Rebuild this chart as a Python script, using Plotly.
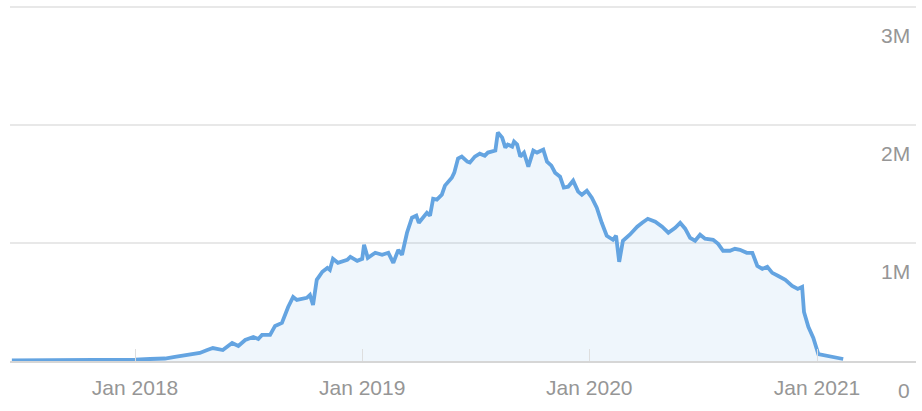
import plotly.graph_objects as go

dates = [
    "2017-06-17", "2017-09-02", "2017-11-06", "2018-01-01", "2018-01-25", "2018-02-18",
    "2018-03-06", "2018-03-30", "2018-04-15", "2018-04-27", "2018-05-06", "2018-05-22",
    "2018-06-06", "2018-06-16", "2018-06-27", "2018-07-10", "2018-07-18", "2018-07-24",
    "2018-08-06", "2018-08-14", "2018-08-25", "2018-09-04", "2018-09-12", "2018-09-18",
    "2018-10-04", "2018-10-09", "2018-10-14", "2018-10-20", "2018-10-29", "2018-11-06",
    "2018-11-10", "2018-11-15", "2018-11-23", "2018-12-08", "2018-12-13", "2018-12-24",
    "2019-01-01", "2019-01-04", "2019-01-10", "2019-01-22", "2019-02-02", "2019-02-12",
    "2019-02-20", "2019-02-28", "2019-03-06", "2019-03-14", "2019-03-22", "2019-03-29",
    "2019-04-02", "2019-04-15", "2019-04-20", "2019-04-25", "2019-05-01", "2019-05-09",
    "2019-05-14", "2019-05-25", "2019-05-29", "2019-06-04", "2019-06-10", "2019-06-19",
    "2019-06-23", "2019-07-01", "2019-07-09", "2019-07-17", "2019-07-22", "2019-08-03",
    "2019-08-07", "2019-08-14", "2019-08-19", "2019-08-23", "2019-08-30", "2019-09-02",
    "2019-09-07", "2019-09-12", "2019-09-18", "2019-09-25", "2019-10-03", "2019-10-09",
    "2019-10-19", "2019-10-25", "2019-11-01", "2019-11-07", "2019-11-15", "2019-11-21",
    "2019-11-28", "2019-12-06", "2019-12-14", "2019-12-20", "2019-12-28", "2020-01-05",
    "2020-01-13", "2020-01-21", "2020-01-29", "2020-02-08", "2020-02-13", "2020-02-18",
    "2020-02-24", "2020-03-06", "2020-03-18", "2020-03-26", "2020-04-04", "2020-04-16",
    "2020-04-27", "2020-05-07", "2020-05-18", "2020-05-26", "2020-06-03", "2020-06-11",
    "2020-06-19", "2020-06-27", "2020-07-05", "2020-07-18", "2020-07-26", "2020-08-03",
    "2020-08-14", "2020-08-22", "2020-08-30", "2020-09-10", "2020-09-19", "2020-09-27",
    "2020-10-05", "2020-10-13", "2020-10-21", "2020-10-30", "2020-11-11", "2020-11-22",
    "2020-12-01", "2020-12-08", "2020-12-11", "2020-12-18", "2020-12-26", "2021-01-03",
    "2021-01-22", "2021-02-12",
]

values = [
    5000, 6000, 8000, 12000, 17000, 21000,
    34000, 51000, 68000, 93000, 110000, 93000,
    153000, 127000, 178000, 204000, 187000, 221000,
    221000, 297000, 323000, 458000, 543000, 518000,
    535000, 560000, 475000, 688000, 756000, 789000,
    772000, 866000, 832000, 857000, 883000, 849000,
    866000, 985000, 874000, 917000, 900000, 917000,
    832000, 942000, 900000, 1087000, 1214000, 1231000,
    1171000, 1256000, 1231000, 1375000, 1367000, 1409000,
    1486000, 1553000, 1596000, 1715000, 1732000, 1689000,
    1681000, 1732000, 1757000, 1740000, 1766000, 1783000,
    1936000, 1893000, 1808000, 1834000, 1817000, 1859000,
    1834000, 1732000, 1766000, 1647000, 1783000, 1766000,
    1791000, 1689000, 1655000, 1596000, 1562000, 1469000,
    1477000, 1528000, 1435000, 1409000, 1443000, 1384000,
    1299000, 1171000, 1061000, 1027000, 1061000, 840000,
    1019000, 1070000, 1138000, 1171000, 1205000, 1180000,
    1138000, 1087000, 1129000, 1171000, 1121000, 1044000,
    1019000, 1070000, 1036000, 1027000, 993000, 934000,
    934000, 951000, 942000, 917000, 917000, 806000,
    781000, 798000, 747000, 722000, 688000, 637000,
    611000, 628000, 416000, 289000, 195000, 59000,
    42000, 17000,
]

x_tick_vals = ["2018-01-01", "2019-01-01", "2020-01-01", "2021-01-01"]
x_tick_text = ["Jan 2018", "Jan 2019", "Jan 2020", "Jan 2021"]
y_tick_vals = [0, 1000000, 2000000, 3000000]
y_tick_text = ["0", "1M", "2M", "3M"]

x_range = ["2017-06-14", "2021-06-09"]
y_range = [0, 3025000]

label_color = "#969696"
font_family = "Liberation Sans, Arial, sans-serif"

fig = go.Figure()
fig.add_trace(go.Scatter(
    x=dates, y=values, mode="lines",
    line=dict(color="#64a4e1", width=3.8),
    fill="tozeroy", fillcolor="rgba(100,164,226,0.10)",
    hoverinfo="skip",
))

for v, t in zip(y_tick_vals, y_tick_text):
    fig.add_annotation(
        x=1, xref="paper", y=v, yref="y", text=t, showarrow=False,
        xanchor="right", yanchor="middle", xshift=-4, yshift=-29,
        font=dict(size=21, color=label_color, family=font_family),
    )

fig.update_layout(
    width=922, height=411,
    margin=dict(l=10, r=6, t=4, b=50, autoexpand=False),
    paper_bgcolor="white", plot_bgcolor="white",
    showlegend=False,
    font=dict(family=font_family, size=21, color=label_color),
    xaxis=dict(
        range=x_range, tickvals=x_tick_vals, ticktext=x_tick_text,
        showgrid=False, zeroline=False, automargin=False,
        showline=True, linecolor="#d6d6d6", linewidth=1.5,
        ticks="inside", ticklen=12, tickcolor="#dedede", tickwidth=1,
        tickfont=dict(size=21, color=label_color, family=font_family),
        ticklabelstandoff=7,
    ),
    yaxis=dict(
        range=y_range, tickvals=y_tick_vals, showticklabels=False,
        showgrid=True, gridcolor="#e8e8e8", gridwidth=1.5, zeroline=False,
        automargin=False,
    ),
)

fig.write_html(
    "out.html",
    config={"displayModeBar": False},
    post_script="document.body.style.margin='0';document.body.style.overflow='hidden';",
)
